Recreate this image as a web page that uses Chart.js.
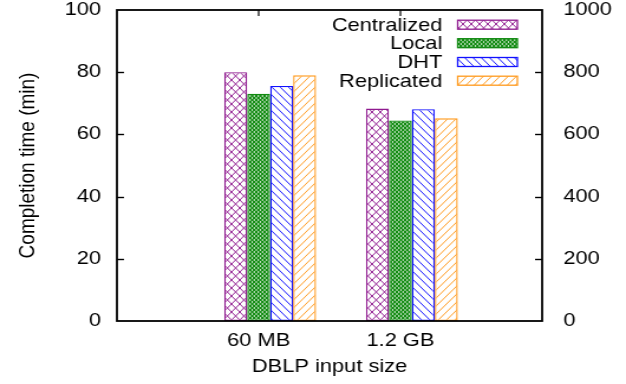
<!DOCTYPE html>
<html>
<head>
<meta charset="utf-8">
<script src="https://cdn.jsdelivr.net/npm/chart.js@4.4.1/dist/chart.umd.min.js"></script>
<style>
html,body{margin:0;padding:0;background:#fff;overflow:hidden;}
#c{display:block;transform:scaleX(1.1811);transform-origin:0 0;}
</style>
</head>
<body>
<canvas id="c" width="530" height="384" style="width:530px;height:384px"></canvas>
<script>
// ---- data ----
const categories = ['60 MB', '1.2 GB'];
const seriesNames = ['Centralized', 'Local', 'DHT', 'Replicated'];
const centralized = [80.0, 68.3];
const local = [73.1, 64.5];
const dht = [75.6, 68.1];
const replicated = [79.0, 65.2];
const leftTicks = [0, 20, 40, 60, 80, 100];
const rightTicks = [0, 200, 400, 600, 800, 1000];
const xTitle = 'DBLP input size';
const yTitle = 'Completion time (min)';

// ---- styles ----
const colors = ['#8f1a8f', '#118a11', '#1010ff', '#ff9a1e'];
const kinds = ['cross', 'dense', 'back', 'slash'];
const FONT = "'Liberation Sans', Arial, Helvetica, sans-serif";
const FS = 18.5;

const canvas = document.getElementById('c');
const ctx = canvas.getContext('2d');

function makePattern(color, kind) {
  const w = 7, h = 8;
  const c = document.createElement('canvas');
  c.width = w; c.height = h;
  const g = c.getContext('2d');
  g.fillStyle = '#fff';
  g.fillRect(0, 0, w, h);
  g.strokeStyle = color;
  g.lineWidth = kind === 'dense' ? 1.3 : 0.95;
  function seg(x1, y1, x2, y2) { g.beginPath(); g.moveTo(x1, y1); g.lineTo(x2, y2); g.stroke(); }
  const reps = kind === 'dense' ? [0, 0.5] : [0];
  reps.forEach(o => {
    const dx = o * w;
    if (kind === 'slash' || kind === 'cross' || kind === 'dense') {
      for (let k = -1; k <= 1; k++) seg(k * w + dx - w * 0.0, h, k * w + dx + w, 0);
    }
    if (kind === 'back' || kind === 'cross' || kind === 'dense') {
      for (let k = -1; k <= 1; k++) seg(k * w + dx, 0, k * w + dx + w, h);
    }
  });
  return ctx.createPattern(c, 'repeat');
}
const patterns = colors.map((c, i) => makePattern(c, kinds[i]));

// pad the category axis with empty slots on both sides (gnuplot-like x range)
const labels = [''].concat(categories, ['']);
const pad = arr => [null].concat(arr, [null]);
const seriesValues = [centralized, local, dht, replicated];

const datasets = [{
  label: '_spacer', data: pad(categories.map(() => null)),
  backgroundColor: 'rgba(0,0,0,0)', borderWidth: 0
}].concat(seriesValues.map((vals, i) => ({
  label: seriesNames[i],
  data: pad(vals),
  backgroundColor: patterns[i],
  borderColor: colors[i],
  borderWidth: 1.4,
  borderSkipped: false
})));

const framePlugin = {
  id: 'frame',
  afterDatasetsDraw(chart) {
    const { ctx, chartArea: a, scales } = chart;
    ctx.save();
    ctx.strokeStyle = '#000';
    ctx.lineWidth = 1.8;
    ctx.strokeRect(a.left, a.top, a.right - a.left, a.bottom - a.top);
    ctx.lineWidth = 1.4;
    const tlh = 6, tlv = 6;
    leftTicks.forEach((v, k) => {
      if (k === 0 || k === leftTicks.length - 1) return;
      const y = Math.round(scales.y.getPixelForValue(v)) + 0.5;
      ctx.beginPath(); ctx.moveTo(a.left, y); ctx.lineTo(a.left + tlh, y); ctx.stroke();
    });
    rightTicks.forEach((v, k) => {
      if (k === 0 || k === rightTicks.length - 1) return;
      const y = Math.round(scales.y2.getPixelForValue(v)) + 0.5;
      ctx.beginPath(); ctx.moveTo(a.right, y); ctx.lineTo(a.right - tlh, y); ctx.stroke();
    });
    ctx.lineWidth = 1.2;
    labels.forEach((lab, i) => {
      if (!lab) return;
      const x = scales.x.getPixelForValue(i);
      ctx.beginPath(); ctx.moveTo(x, a.top); ctx.lineTo(x, a.top + tlv); ctx.stroke();
    });
    // key (gnuplot style)
    ctx.font = FS + 'px ' + FONT;
    ctx.fillStyle = '#000';
    ctx.textAlign = 'right';
    ctx.textBaseline = 'middle';
    const rowY = [24.7, 43.2, 62, 80.7];
    seriesNames.forEach((name, i) => {
      const cy = rowY[i];
      ctx.fillText(name, 374.5, cy + 1);
      ctx.fillStyle = patterns[i];
      ctx.fillRect(387.5, cy - 4.5, 50.5, 9);
      ctx.strokeStyle = colors[i];
      ctx.lineWidth = 1.3;
      ctx.strokeRect(387.5, cy - 4.5, 50.5, 9);
      ctx.fillStyle = '#000';
    });
    ctx.restore();
  }
};

Chart.defaults.font.family = FONT;
Chart.defaults.color = '#000';

new Chart(ctx, {
  type: 'bar',
  data: { labels: labels, datasets: datasets },
  options: {
    responsive: false,
    animation: false,
    devicePixelRatio: 1,
    layout: { padding: { top: 10, left: 0, right: 0, bottom: 0 } },
    plugins: { legend: { display: false }, tooltip: { enabled: false } },
    datasets: { bar: { categoryPercentage: 0.81, barPercentage: 1.0 } },
    scales: {
      x: {
        type: 'category',
        offset: false,
        grid: { display: false, drawTicks: false, offset: false },
        border: { display: false },
        ticks: { padding: 9, font: { size: FS }, maxRotation: 0, autoSkip: false },
        title: { display: true, text: xTitle, font: { size: FS }, padding: { top: 0, bottom: 6 } },
        afterFit(s) { s.height = 63; s.paddingLeft = 0; s.paddingRight = 0; }
      },
      y: {
        position: 'left',
        min: 0, max: 100,
        grid: { display: false, drawTicks: false },
        border: { display: false },
        ticks: { stepSize: 20, padding: 13.5, font: { size: FS } },
        title: { display: true, text: yTitle, font: { size: 19 }, padding: { top: 12, bottom: 0 } },
        afterFit(s) { s.width = 99; s.paddingTop = 0; s.paddingBottom = 0; }
      },
      y2: {
        position: 'right',
        min: 0, max: 1000,
        grid: { display: false, drawTicks: false },
        border: { display: false },
        ticks: { stepSize: 200, padding: 18, font: { size: FS }, callback: v => String(v) },
        afterFit(s) { s.width = 71; s.paddingTop = 0; s.paddingBottom = 0; }
      }
    }
  },
  plugins: [framePlugin]
});
</script>
</body>
</html>
